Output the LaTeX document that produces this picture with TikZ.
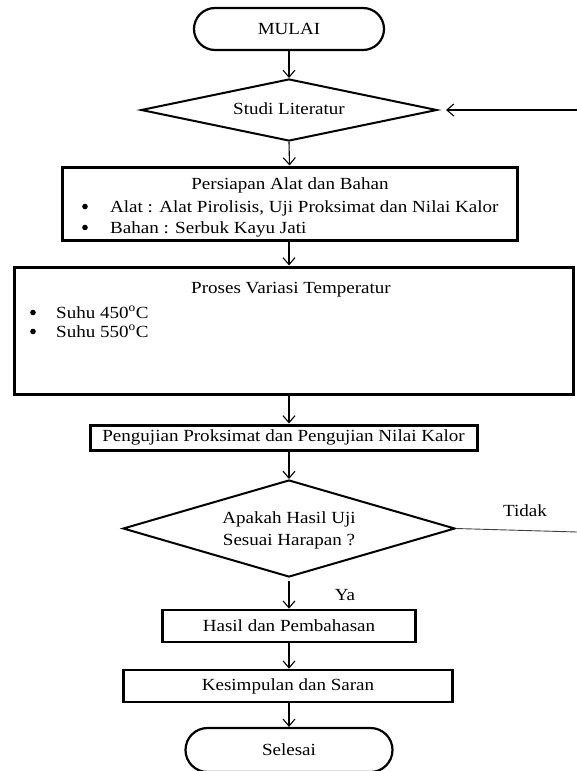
\documentclass[tikz,border=0pt]{standalone}
\usepackage{fontspec}
\setmainfont{Liberation Serif}[FakeStretch=1.12]
\usetikzlibrary{shapes,arrows.meta,calc,positioning}

\begin{document}
\begin{tikzpicture}[x=1pt,y=-1pt,
  every node/.style={font=\fontsize{17}{22}\selectfont, inner sep=0pt},
  terminal/.style={draw, rounded rectangle, line width=2.2pt, minimum height=42pt},
  decision/.style={draw, diamond, line width=2pt},
  prosbox/.style={draw, rectangle, line width=3pt},
  txt/.style={text height=12pt, text depth=4pt},
  arr/.style={-{Straight Barb[length=7pt,width=12pt]}, line width=1.1pt}]
\useasboundingbox (0,0) rectangle (577,771);

% alur utama
\node[terminal, minimum width=190pt] (mulai) at (289,29) {MULAI};
\node[decision, minimum width=296pt, minimum height=62pt] (studi) at (289,110) {};
\node[txt] (studiT) at (studi.center) {Studi Literatur};

\node[prosbox, minimum width=455pt, minimum height=73pt] (persiapan) at (289.5,203.5) {};
\node[txt] (persiapanT) at (290,185) {Persiapan Alat dan Bahan};
\node[txt, anchor=west] (alat) at (110,208) {Alat : Alat Pirolisis, Uji Proksimat dan Nilai Kalor};
\node[txt, anchor=west] (bahan) at (110,229) {Bahan : Serbuk Kayu Jati};
\fill ($(alat.west)+(-25,-1.5)$) circle (2.8pt);
\fill ($(bahan.west)+(-25,-1.5)$) circle (2.8pt);

\node[prosbox, minimum width=559pt, minimum height=127pt] (proses) at (293.5,330.5) {};
\node[txt] (prosesT) at (291,289) {Proses Variasi Temperatur};
\node[txt, anchor=west] (suhuA) at (56,314) {Suhu 450\textsuperscript{o}C};
\node[txt, anchor=west] (suhuB) at (56,333) {Suhu 550\textsuperscript{o}C};
\fill ($(suhuA.west)+(-23,-1.5)$) circle (2.8pt);
\fill ($(suhuB.west)+(-23,-1.5)$) circle (2.8pt);

\node[prosbox, minimum width=387pt, minimum height=25pt] (uji) at (283.5,437.5) {Pengujian Proksimat dan Pengujian Nilai Kalor};

\node[decision, minimum width=332pt, minimum height=97pt] (cek) at (289,528.5) {};
\node[align=center] (cekT) at (289,530) {Apakah Hasil Uji\\Sesuai Harapan ?};

\node[prosbox, line width=2.6pt, minimum width=253pt, minimum height=32pt] (hasil) at (289,626) {Hasil dan Pembahasan};
\node[prosbox, line width=2.6pt, minimum width=329pt, minimum height=32pt] (simpulan) at (288,686) {Kesimpulan dan Saran};
\node[terminal, minimum width=207pt, minimum height=44pt] (selesai) at (289,750) {Selesai};

% keterangan
\node[txt] (tidak) at (525,512) {Tidak};
\node[txt] (ya) at (345,596) {Ya};
\coordinate (kanan) at (577,110);
\coordinate (kananB) at (577,532);

% panah
\draw[arr] (mulai.south) -- (studi.north);
\draw[arr] (kanan) -- ($(studi.east)+(8,0)$);
\draw[arr] (studi.south) -- (persiapan.south |- persiapan.north);
\draw[arr] (persiapan.south -| studi.south) -- (studi.south |- proses.north);
\draw[arr] (proses.south -| studi.south) -- (studi.south |- uji.north);
\draw[arr] (uji.south -| cek.north) -- (cek.north);
\draw[line width=0.9pt, black!75] (cek.east) -- (kananB);
\draw[arr] ($(cek.south)+(0,3)$) -- (cek.south |- hasil.north);
\draw[arr] (hasil.south) -- (hasil.south |- simpulan.north);
\draw[arr] (simpulan.south -| hasil.south) -- (hasil.south |- selesai.north);
\end{tikzpicture}
\end{document}
